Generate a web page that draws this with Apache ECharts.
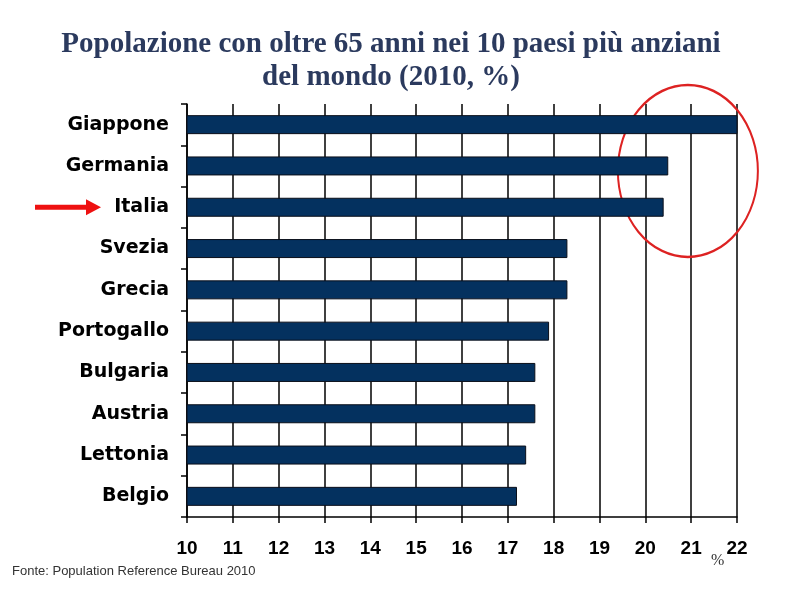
<!doctype html>
<html lang="it">
<head>
    <meta charset="UTF-8">
    <title>Popolazione con oltre 65 anni</title>
    <script src="https://cdn.jsdelivr.net/npm/echarts@6/dist/echarts.min.js"></script>
    <style>
        html, body { margin: 0; padding: 0; background: #fff; }
        #chart { width: 794px; height: 595px; }
    </style>
</head>
<body>
<div id="chart"></div>
<script type="text/javascript">
/* dati */
const countries = ['Giappone', 'Germania', 'Italia', 'Svezia', 'Grecia',
    'Portogallo', 'Bulgaria', 'Austria', 'Lettonia', 'Belgio'];
const shares = [22.07, 20.5, 20.4, 18.3, 18.3, 17.9, 17.6, 17.6, 17.4, 17.2];
const axisMin = 10;
const axisMax = 22;

let chart = echarts.init(document.getElementById('chart'));

let option = {
    animation: false,
    title: {
        text: 'Popolazione con oltre 65 anni nei 10 paesi più anziani\ndel mondo (2010, %)',
        left: 386,
        textAlign: 'center',
        top: 23,
        textStyle: {
            fontFamily: '"Liberation Serif", "DejaVu Serif", serif',
            fontWeight: 'bold',
            fontSize: 29,
            lineHeight: 33,
            color: '#2b3a5e'
        }
    },
    grid: {
        left: 187,
        right: 57,
        top: 104,
        bottom: 78
    },
    xAxis: {
        type: 'value',
        min: axisMin,
        max: axisMax,
        interval: 1,
        axisLine: { show: true, lineStyle: { color: '#000', width: 1.5 } },
        axisTick: { show: true, length: 6, lineStyle: { color: '#000', width: 1.5 } },
        splitLine: { show: true, lineStyle: { color: '#000', width: 1.5 } },
        axisLabel: {
            margin: 22,
            fontFamily: '"Liberation Sans", Arial, sans-serif',
            fontWeight: 'bold',
            fontSize: 19,
            color: '#000'
        }
    },
    yAxis: {
        type: 'category',
        data: countries,
        inverse: true,
        axisLine: { show: true, lineStyle: { color: '#000', width: 1.5 } },
        axisTick: { show: true, length: 6, lineStyle: { color: '#000', width: 1.5 } },
        axisLabel: {
            margin: 18,
            fontFamily: '"DejaVu Sans", sans-serif',
            fontWeight: 'bold',
            fontSize: 19,
            color: '#000'
        }
    },
    series: [
        {
            type: 'bar',
            data: shares,
            barWidth: 19,
            itemStyle: {
                color: '#04315f',
                borderColor: '#0a0f1a',
                borderWidth: 1
            }
        }
    ]
};
chart.setOption(option);

/* annotazioni: freccia su Italia, cerchio rosso, note */
let italia = chart.convertToPixel({ gridIndex: 0 }, [axisMin, 'Italia']);
let circleCenter = chart.convertToPixel({ gridIndex: 0 }, [20.95, 'Germania']);
chart.setOption({
    graphic: [
        {
            id: 'unit',
            type: 'text',
            left: 711,
            top: 553,
            style: {
                text: '%',
                font: '16px "Liberation Serif", serif',
                fill: '#333'
            }
        },
        {
            id: 'fonte',
            type: 'text',
            left: 12,
            top: 565,
            style: {
                text: 'Fonte: Population Reference Bureau 2010',
                font: '13px "Liberation Sans", Arial, sans-serif',
                fill: '#333'
            }
        },
        {
            id: 'arrow',
            type: 'polygon',
            shape: {
                points: [
                    [35, italia[1] - 2.5], [86, italia[1] - 2.5], [86, italia[1] - 8],
                    [101, italia[1]], [86, italia[1] + 8], [86, italia[1] + 2.5],
                    [35, italia[1] + 2.5]
                ]
            },
            style: { fill: '#ee1111' }
        },
        {
            id: 'ring',
            type: 'circle',
            x: circleCenter[0] - 1,
            y: circleCenter[1] + 5,
            scaleY: 86 / 70,
            shape: { cx: 0, cy: 0, r: 70 },
            style: { fill: null, stroke: '#dd2222', lineWidth: 2 }
        }
    ]
});
</script>
</body>
</html>
